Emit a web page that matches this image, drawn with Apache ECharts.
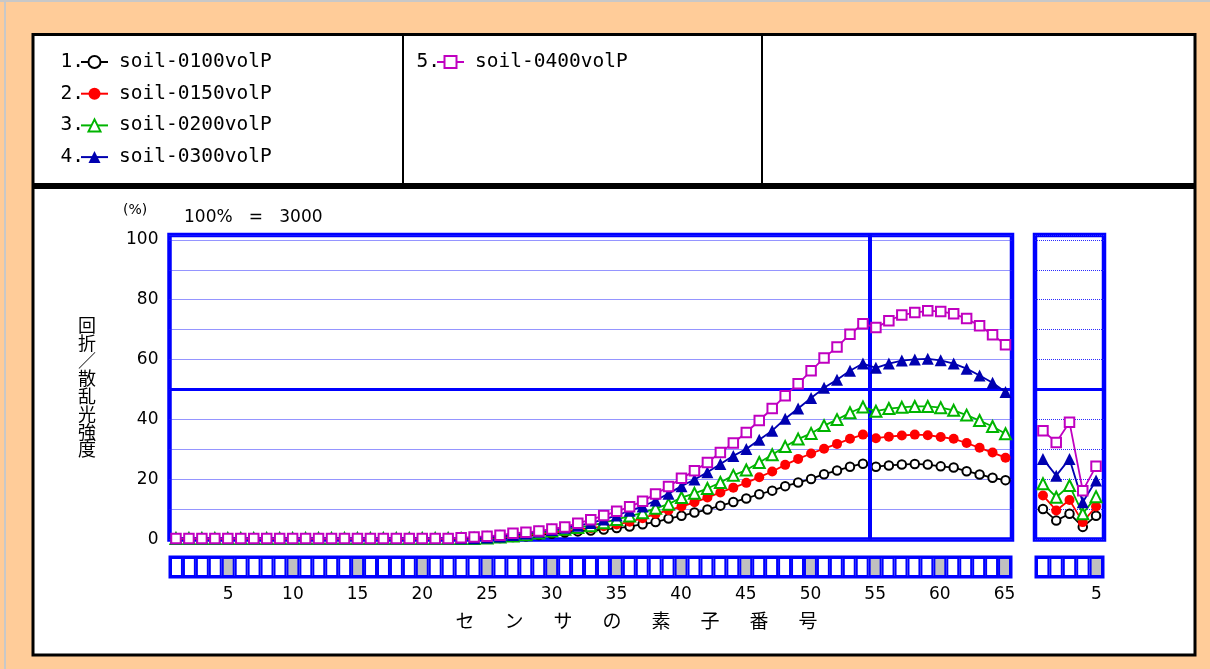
<!DOCTYPE html>
<html>
<head>
<meta charset="utf-8">
<script src="https://cdn.jsdelivr.net/npm/echarts@6/dist/echarts.min.js"></script>
<style>
  html, body { margin: 0; padding: 0; background: #ffcc99; }
  #chart { width: 1210px; height: 669px; }
</style>
</head>
<body>
<div id="chart"></div>
<script>
// series names (legend)
const names = ["soil-0100volP", "soil-0150volP", "soil-0200volP", "soil-0300volP", "soil-0400volP"];

// sensor elements 1..65 (main block) and 1..5 (small block)
const elements = Array.from({ length: 65 }, (_, i) => String(i + 1));
const elementsSub = ["1", "2", "3", "4", "5"];

// main block values (%)
const s100 = [0.2, 0.2, 0.2, 0.2, 0.2, 0.2, 0.2, 0.2, 0.2, 0.2,
  0.2, 0.2, 0.2, 0.2, 0.2, 0.2, 0.2, 0.2, 0.2, 0.2,
  0.2, 0.2, 0.2, 0.2, 0.3, 0.5, 0.8, 1.1, 1.5, 1.9,
  2.3, 2.7, 3.0, 3.3, 3.8, 4.3, 5.1, 5.8, 7.0, 7.9,
  9.0, 10.0, 11.3, 12.5, 13.7, 15.1, 16.3, 17.8, 19.0, 20.2,
  21.8, 23.0, 24.3, 25.3, 24.3, 24.7, 25.0, 25.2, 25.0, 24.4,
  24.0, 22.8, 21.7, 20.6, 19.8];
const s150 = [0.2, 0.2, 0.2, 0.2, 0.2, 0.2, 0.2, 0.2, 0.2, 0.2,
  0.2, 0.2, 0.2, 0.2, 0.2, 0.2, 0.2, 0.2, 0.2, 0.2,
  0.2, 0.2, 0.2, 0.2, 0.4, 0.7, 1.0, 1.4, 1.9, 2.4,
  2.8, 3.3, 3.8, 4.4, 5.0, 5.9, 7.1, 8.5, 9.8, 11.0,
  12.4, 14.0, 15.7, 17.3, 18.9, 20.8, 22.7, 24.9, 26.9, 28.7,
  30.3, 31.9, 33.6, 35.0, 33.8, 34.3, 34.7, 35.0, 34.8, 34.2,
  33.6, 32.2, 30.6, 29.0, 27.3];
const s200 = [0.3, 0.3, 0.3, 0.3, 0.3, 0.3, 0.3, 0.3, 0.3, 0.3,
  0.3, 0.3, 0.3, 0.3, 0.3, 0.3, 0.3, 0.3, 0.3, 0.3,
  0.3, 0.3, 0.3, 0.3, 0.5, 0.8, 1.2, 1.6, 2.2, 2.8,
  3.4, 4.0, 4.6, 5.6, 6.7, 7.8, 8.9, 10.4, 11.8, 14.0,
  15.4, 17.0, 19.0, 21.4, 23.2, 25.7, 28.3, 31.0, 33.5, 35.4,
  38.0, 40.0, 42.3, 44.2, 42.8, 43.7, 44.1, 44.4, 44.4, 44.0,
  43.1, 41.5, 39.7, 37.7, 35.3];
const s300 = [0.4, 0.4, 0.4, 0.4, 0.4, 0.4, 0.4, 0.4, 0.4, 0.4,
  0.4, 0.4, 0.4, 0.4, 0.4, 0.4, 0.4, 0.4, 0.4, 0.4,
  0.4, 0.4, 0.4, 0.4, 0.7, 1.0, 1.5, 2.0, 2.6, 3.2,
  3.9, 4.6, 5.5, 6.7, 8.0, 9.6, 11.0, 13.0, 15.3, 17.8,
  20.0, 22.4, 25.2, 27.9, 30.2, 33.3, 36.3, 40.3, 43.7, 47.2,
  50.6, 53.3, 56.3, 58.7, 57.3, 58.7, 59.7, 60.1, 60.3, 59.8,
  58.7, 57.0, 54.7, 52.3, 49.2];
const s400 = [0.3, 0.3, 0.3, 0.3, 0.3, 0.3, 0.3, 0.3, 0.3, 0.3,
  0.3, 0.3, 0.3, 0.3, 0.3, 0.3, 0.3, 0.3, 0.3, 0.3,
  0.3, 0.3, 0.6, 0.8, 1.1, 1.4, 2.1, 2.4, 2.8, 3.5,
  4.2, 5.4, 6.6, 8.0, 9.4, 10.9, 12.8, 15.2, 17.7, 20.4,
  22.9, 25.7, 29.0, 32.2, 35.7, 39.7, 43.7, 48.0, 52.0, 56.3,
  60.6, 64.2, 68.5, 72.0, 70.7, 73.0, 74.9, 75.7, 76.3, 76.1,
  75.3, 73.7, 71.3, 68.3, 65.0];

// small block values (%)
const p100 = [10.2, 6.3, 8.6, 4.2, 7.9];
const p150 = [14.7, 9.7, 13.2, 5.8, 11.0];
const p200 = [18.6, 14.1, 18.0, 8.6, 14.3];
const p300 = [26.9, 21.3, 26.9, 12.4, 19.7];
const p400 = [36.3, 32.4, 39.1, 16.3, 24.4];

const yTicks = [0, 20, 40, 60, 80, 100];

const BLUE = "#0000ff";
const NUM_FONT = "DejaVu Sans";
const JP_FONT = "Noto Sans CJK JP";
const MONO = "DejaVu Sans Mono";

const styles = [
  { color: "#000000", symbol: "emptyCircle", size: 8.5 },
  { color: "#ff0000", symbol: "circle", size: 10 },
  { color: "#00b400", symbol: "emptyTriangle", size: 11 },
  { color: "#0000b0", symbol: "triangle", size: 12 },
  { color: "#c000c0", symbol: "emptyRect", size: 9.5 },
];

function lineSeries(idx, values, axis, withMarks) {
  const st = styles[idx];
  const s = {
    name: names[idx],
    type: "line",
    xAxisIndex: axis,
    yAxisIndex: axis,
    data: values.map((v, i) => [i + 1, v]),
    symbol: st.symbol,
    symbolSize: st.size,
    showAllSymbol: true,
    color: st.color,
    lineStyle: { width: 1.8, color: st.color },
    itemStyle: { color: st.color, borderWidth: 2 },
    emphasis: { disabled: true },
    z: 3 + idx,
  };
  if (withMarks) {
    s.markLine = {
      silent: true,
      symbol: "none",
      animation: false,
      label: { show: false },
      lineStyle: { color: BLUE, width: 3, type: "solid" },
      data: withMarks,
    };
  }
  return s;
}

function stripSeries(cats, axis) {
  return {
    type: "bar",
    xAxisIndex: axis,
    yAxisIndex: axis,
    barCategoryGap: "0%",
    silent: true,
    data: cats.map((c) => ({
      value: 1,
      itemStyle: { color: Number(c) % 5 === 0 ? "#c0c0c0" : "#ffffff" },
    })),
    itemStyle: { borderColor: BLUE, borderWidth: 2 },
  };
}

const mainData = [s100, s150, s200, s300, s400];
const subData = [p100, p150, p200, p300, p400];

const series = [];
mainData.forEach((d, i) => {
  series.push(lineSeries(i, d, 0, i === 0 ? [{ yAxis: 50 }, { xAxis: 54.5, lineStyle: { width: 4 } }] : null));
});
subData.forEach((d, i) => {
  series.push(lineSeries(i, d, 1, i === 0 ? [{ yAxis: 50 }] : null));
});
series.push(stripSeries(elements, 2));
series.push(stripSeries(elementsSub, 3));

const yValueAxis = (idx, showLabel) => ({
  type: "value",
  gridIndex: idx,
  min: 0,
  max: 101.6,
  interval: 10,
  axisLine: { show: false },
  axisTick: { show: false },
  axisLabel: {
    show: showLabel,
    margin: 11,
    color: "#000",
    fontFamily: NUM_FONT,
    fontSize: 17,
    formatter: (v) => (yTicks.indexOf(v) >= 0 ? String(v) : ""),
  },
  splitLine: { show: true, lineStyle: { color: "#2a2aff", type: "dotted", width: 1 } },
});

const stripXAxis = (idx, cats) => ({
  type: "category",
  gridIndex: idx,
  data: cats,
  boundaryGap: true,
  axisLine: { show: false },
  axisTick: { show: false },
  axisLabel: {
    margin: 9,
    color: "#000",
    fontFamily: NUM_FONT,
    fontSize: 17,
    interval: (i, v) => Number(v) % 5 === 0,
  },
});

const stripYAxis = (idx) => ({
  type: "value", gridIndex: idx, min: 0, max: 1, show: false,
});

const legendText = {
  fontFamily: MONO,
  fontSize: 19.5,
  lineHeight: 20,
  color: "#000",
  padding: [0, 0, 0, 6],
};

const xName = "センサの素子番号";
const graphics = [
  { type: "line", shape: { x1: 0, y1: 1, x2: 1210, y2: 1 }, style: { stroke: "#c8c8c8", lineWidth: 2 }, z: -10 },
  { type: "line", shape: { x1: 5, y1: 0, x2: 5, y2: 669 }, style: { stroke: "#c8c8c8", lineWidth: 2 }, z: -10 },
  { type: "rect", shape: { x: 33, y: 34.5, width: 1162, height: 150 }, style: { fill: "#fff", stroke: "#000", lineWidth: 3 }, z: -10 },
  { type: "rect", shape: { x: 33, y: 187.5, width: 1162, height: 467.5 }, style: { fill: "#fff", stroke: "#000", lineWidth: 3 }, z: -10 },
  { type: "line", shape: { x1: 403, y1: 34.5, x2: 403, y2: 184.5 }, style: { stroke: "#000", lineWidth: 2 }, z: -9 },
  { type: "line", shape: { x1: 762, y1: 34.5, x2: 762, y2: 184.5 }, style: { stroke: "#000", lineWidth: 2 }, z: -9 },
  { type: "text", style: { x: 123, y: 210, text: "(%)", fontFamily: NUM_FONT, fontSize: 14, fill: "#000", verticalAlign: "middle" } },
  { type: "text", style: { x: 184, y: 218, text: "100%   =   3000", fontFamily: NUM_FONT, fontSize: 17, fill: "#000", verticalAlign: "middle" } },
  {
    type: "text",
    style: {
      x: 87, y: 316, text: "回\n折\n／\n散\n乱\n光\n強\n度",
      fontFamily: JP_FONT, fontSize: 18, lineHeight: 17.8, fill: "#000", align: "center", verticalAlign: "top",
    },
  },
];
names.forEach((n, i) => {
  const col = i < 4;
  graphics.push({
    type: "text",
    style: {
      x: col ? 84 : 440, y: col ? 62 + i * 31.7 : 62,
      text: (i + 1) + ".", fontFamily: MONO, fontSize: 19.5, fill: "#000", align: "right", verticalAlign: "middle",
    },
  });
});
xName.split("").forEach((ch, i) => {
  graphics.push({
    type: "text",
    style: { x: 465 + i * 49, y: 621, text: ch, fontFamily: JP_FONT, fontSize: 19, fill: "#000", align: "center", verticalAlign: "middle" },
  });
});

const option = {
  backgroundColor: "#ffcc99",
  animation: false,
  legend: [
    {
      data: names.slice(0, 4),
      orient: "vertical",
      left: 80,
      top: 52,
      padding: 0,
      itemWidth: 27,
      itemHeight: 15,
      itemGap: 11.7,
      selectedMode: false,
      textStyle: legendText,
    },
    {
      data: names.slice(4),
      orient: "vertical",
      left: 436,
      top: 52,
      padding: 0,
      itemWidth: 27,
      itemHeight: 15,
      selectedMode: false,
      textStyle: legendText,
    },
  ],
  grid: [
    { left: 169.5, top: 235, width: 842.5, height: 304.5, show: true, borderColor: BLUE, borderWidth: 4.5, backgroundColor: "#fff" },
    { left: 1035, top: 235, width: 69, height: 304.5, show: true, borderColor: BLUE, borderWidth: 4.5, backgroundColor: "#fff" },
    { left: 170, top: 557, width: 841, height: 20, show: true, borderColor: BLUE, borderWidth: 3 },
    { left: 1036, top: 557, width: 67, height: 20, show: true, borderColor: BLUE, borderWidth: 3 },
  ],
  xAxis: [
    { type: "value", gridIndex: 0, min: 0.5, max: 65.5, show: false, splitLine: { show: false } },
    { type: "value", gridIndex: 1, min: 0.4, max: 5.6, show: false, splitLine: { show: false } },
    stripXAxis(2, elements),
    stripXAxis(3, elementsSub),
  ],
  yAxis: [yValueAxis(0, true), yValueAxis(1, false), stripYAxis(2), stripYAxis(3)],
  graphic: graphics,
  series: series,
};

const chart = echarts.init(document.getElementById("chart"), null, { renderer: "canvas" });
chart.setOption(option);
</script>
</body>
</html>
